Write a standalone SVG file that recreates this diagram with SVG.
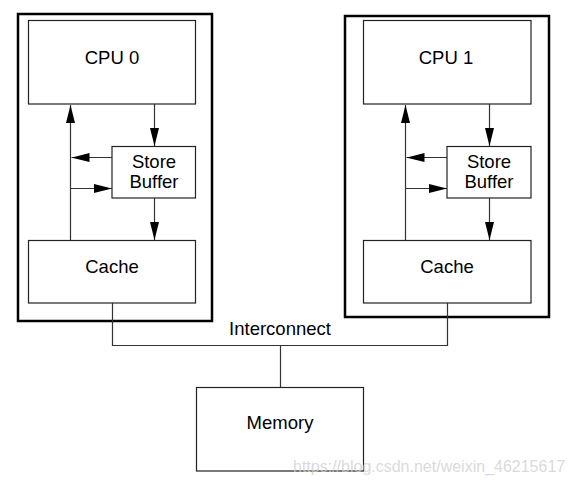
<svg xmlns="http://www.w3.org/2000/svg" width="574" height="484" viewBox="0 0 574 484">
<defs>
<style>
.outer{fill:none;stroke:#000;stroke-width:2.5}
.box{fill:#fff;stroke:#222;stroke-width:1.2}
.ln{fill:none;stroke:#333;stroke-width:1.2}
.t{font-family:"Liberation Sans",Arial,sans-serif;font-size:18.5px;fill:#000;text-anchor:middle}
.wm{font-family:"Liberation Sans",Arial,sans-serif;font-size:16px;fill:#d0d0d0;fill-opacity:0.8}
</style>
<marker id="ah" viewBox="0 0 18 9" refX="18" refY="4.5" markerWidth="18" markerHeight="9" markerUnits="userSpaceOnUse" orient="auto">
<path d="M0,0 L18,4.5 L0,9 z" fill="#000"/>
</marker>
</defs>
<rect width="574" height="484" fill="#fff"/>
<g id="cpu0-group">
<rect class="outer" x="18" y="14" width="194" height="307"/>
</g>
<g id="cpu1-group">
<rect class="outer" x="345" y="16" width="204" height="301"/>
</g>
<g id="connectors">
<line class="ln" x1="70.5" y1="240" x2="70.5" y2="105" marker-end="url(#ah)"/>
<line class="ln" x1="154.5" y1="104" x2="154.5" y2="146" marker-end="url(#ah)"/>
<line class="ln" x1="154.5" y1="198" x2="154.5" y2="240" marker-end="url(#ah)"/>
<line class="ln" x1="112" y1="157.5" x2="71.5" y2="157.5" marker-end="url(#ah)"/>
<line class="ln" x1="70.5" y1="188.5" x2="112" y2="188.5" marker-end="url(#ah)"/>
<line class="ln" x1="405.5" y1="240" x2="405.5" y2="105" marker-end="url(#ah)"/>
<line class="ln" x1="489.5" y1="104" x2="489.5" y2="146" marker-end="url(#ah)"/>
<line class="ln" x1="489.5" y1="198" x2="489.5" y2="240" marker-end="url(#ah)"/>
<line class="ln" x1="447" y1="157.5" x2="406.5" y2="157.5" marker-end="url(#ah)"/>
<line class="ln" x1="405.5" y1="188.5" x2="447" y2="188.5" marker-end="url(#ah)"/>
<polyline class="ln" points="112.5,303 112.5,345.5 447.5,345.5 447.5,303"/>
<line class="ln" x1="280.5" y1="345.5" x2="280.5" y2="387"/>
</g>
<g id="cpu0">
<rect class="box" x="28.5" y="20.5" width="167" height="83.5"/>
<text class="t" x="112" y="63.5">CPU 0</text>
</g>
<g id="storebuffer0">
<rect class="box" x="112" y="146.5" width="83.5" height="51.5"/>
<text class="t" x="154" y="167.5">Store</text>
<text class="t" x="154" y="188">Buffer</text>
</g>
<g id="cache0">
<rect class="box" x="28.5" y="240.5" width="167" height="62.5"/>
<text class="t" x="112" y="272.5">Cache</text>
</g>
<g id="cpu1">
<rect class="box" x="363.5" y="20.5" width="167.5" height="83.5"/>
<text class="t" x="446" y="63.5">CPU 1</text>
</g>
<g id="storebuffer1">
<rect class="box" x="447" y="146.5" width="84" height="51.5"/>
<text class="t" x="489" y="167.5">Store</text>
<text class="t" x="489" y="188">Buffer</text>
</g>
<g id="cache1">
<rect class="box" x="363.5" y="240.5" width="167.5" height="62.5"/>
<text class="t" x="447" y="272.5">Cache</text>
</g>
<g id="interconnect">
<text class="t" x="280" y="334.5">Interconnect</text>
</g>
<g id="memory">
<rect class="box" x="196.5" y="387.5" width="167" height="83.5"/>
<text class="t" x="280" y="428.5">Memory</text>
</g>
<text class="wm" x="293" y="472">https://blog.csdn.net/weixin_46215617</text>
</svg>
